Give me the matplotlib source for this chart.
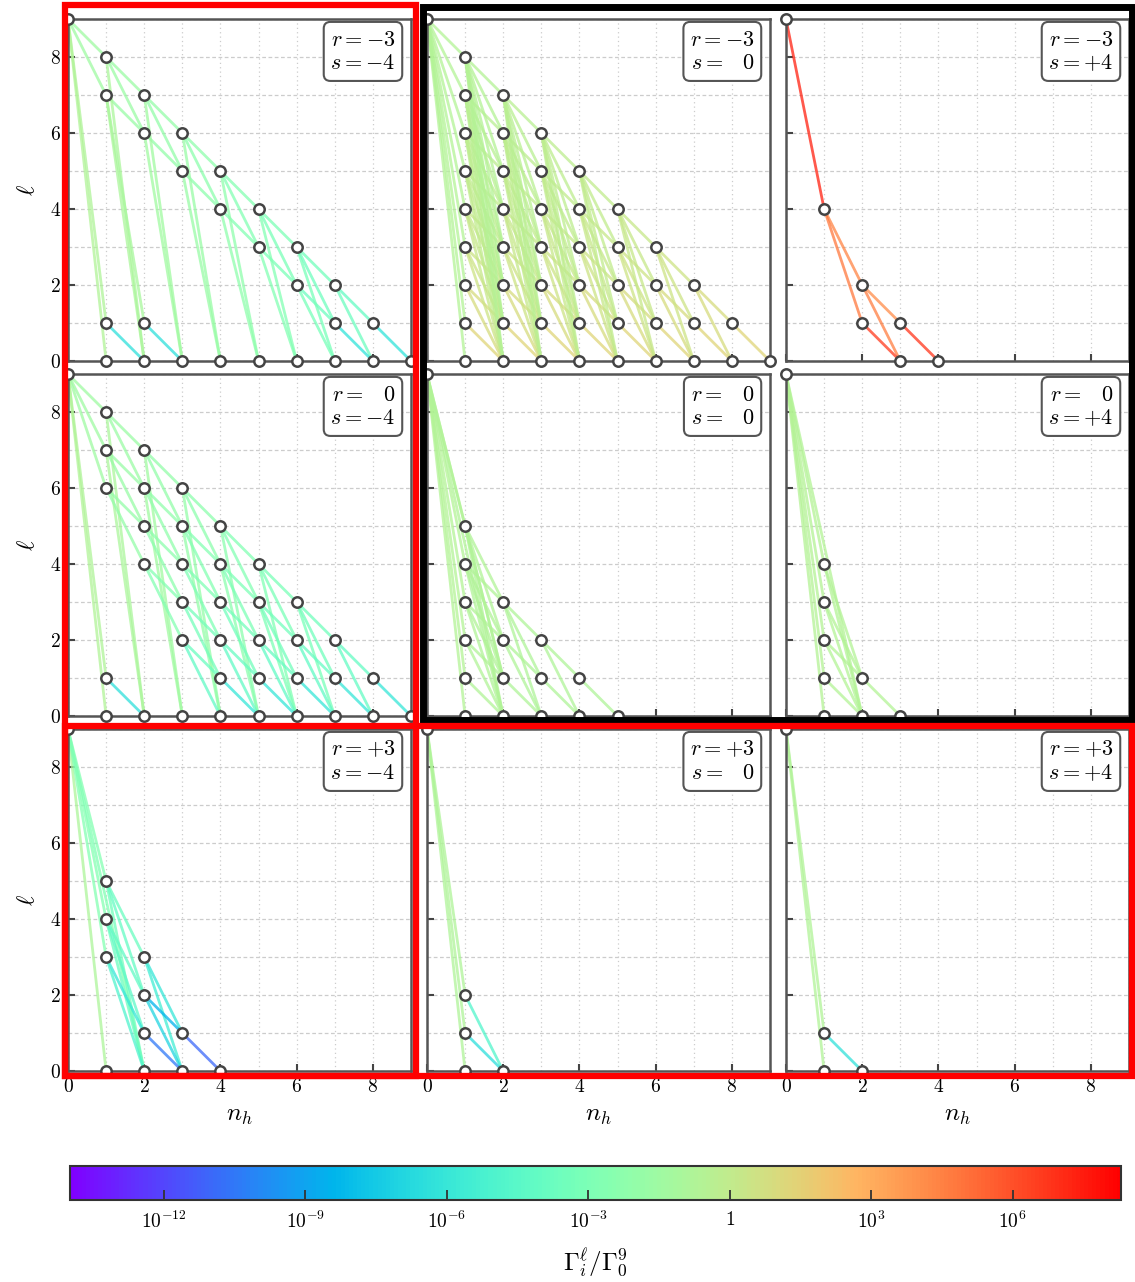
import numpy as np
import matplotlib
matplotlib.use("Agg")
import matplotlib.pyplot as plt
from matplotlib.collections import LineCollection
from matplotlib.colors import LogNorm
from matplotlib.patches import Rectangle
from matplotlib.ticker import MultipleLocator
import matplotlib.cm as cm

plt.rcParams['mathtext.fontset'] = 'cm'
plt.rcParams['font.family'] = 'serif'
plt.rcParams['font.serif'] = ['DejaVu Serif']

W, H = 1135, 1282

# panel parameters
r_values = [-3, 0, 3]   # rows
s_values = [-4, 0, 4]   # columns

# colour scale, log10 of Gamma_i^l / Gamma_0^9
cbar_log_min = -14.0
cbar_log_max = 8.3
cbar_ticks_log = [-12, -9, -6, -3, 0, 3, 6]
cbar_ticklabels = [r'$10^{-12}$', r'$10^{-9}$', r'$10^{-6}$', r'$10^{-3}$',
                   r'$1$', r'$10^{3}$', r'$10^{6}$']

# edges: (n_h, l, n_h', l', log10 ratio)
edges_rm3_sm4 = [
    (0, 9, 1, 8, -1.5), (0, 9, 1, 7, -1.5), (0, 9, 1, 1, -0.8), (0, 9, 1, 0, -0.7),
    (1, 8, 2, 7, -1.7), (1, 8, 2, 6, -1.7), (1, 7, 2, 6, -1.8), (1, 8, 2, 0, -1.0),
    (1, 7, 2, 1, -1.1), (1, 7, 2, 0, -1.0), (1, 1, 2, 0, -6.4),
    (2, 7, 3, 6, -1.9), (2, 7, 3, 5, -2.0), (2, 6, 3, 5, -2.0), (2, 7, 3, 0, -1.4),
    (2, 6, 3, 0, -1.4), (2, 1, 3, 0, -6.4),
    (3, 6, 4, 5, -2.2), (3, 6, 4, 4, -2.3), (3, 5, 4, 4, -2.3), (3, 6, 4, 0, -1.8),
    (3, 5, 4, 0, -1.8),
    (4, 5, 5, 4, -2.6), (4, 5, 5, 3, -2.7), (4, 4, 5, 3, -2.7), (4, 5, 5, 0, -2.2),
    (4, 4, 5, 0, -2.2),
    (5, 4, 6, 3, -3.0), (5, 4, 6, 2, -3.1), (5, 3, 6, 2, -3.1), (5, 4, 6, 0, -2.7),
    (5, 3, 6, 0, -2.7),
    (6, 3, 7, 2, -3.4), (6, 3, 7, 1, -3.6), (6, 2, 7, 1, -3.7), (6, 3, 7, 0, -3.2),
    (6, 2, 7, 0, -3.2),
    (7, 2, 8, 1, -4.0), (7, 2, 8, 0, -3.7), (7, 1, 8, 0, -6.2),
    (8, 1, 9, 0, -6.2),
]

# r=-3, s=0: levels present in each n_h column, every state decays to all lower l of the next column
levels_rm3_s0 = [[9], [0, 1, 2, 3, 4, 5, 6, 7, 8], [0, 1, 2, 3, 4, 5, 6, 7],
                 [0, 1, 2, 3, 4, 5, 6], [0, 1, 2, 3, 4, 5], [0, 1, 2, 3, 4],
                 [0, 1, 2, 3], [0, 1, 2], [0, 1], [0]]
# log10 ratio by the l of the source state
logG_rm3_s0_by_source = [0.0, 1.3, 0.9, 0.5, 0.2, 0.0, -0.2, -0.4, -0.5, -0.6]

edges_rm3_sp4 = [
    (0, 9, 1, 4, 7.3), (1, 4, 2, 2, 4.4), (1, 4, 2, 1, 4.8), (2, 2, 3, 1, 4.2),
    (2, 2, 3, 0, 4.6), (2, 1, 3, 0, 6.6), (3, 1, 4, 0, 6.8),
]

edges_r0_sm4 = [
    (0, 9, 1, 8, -1.5), (0, 9, 1, 7, -1.5), (0, 9, 1, 6, -1.5), (0, 9, 1, 1, -0.8),
    (0, 9, 1, 0, -0.7),
    (1, 8, 2, 7, -1.7), (1, 8, 2, 6, -1.7), (1, 8, 2, 0, -1.0),
    (1, 7, 2, 6, -1.8), (1, 7, 2, 5, -1.8), (1, 7, 2, 0, -1.0),
    (1, 6, 2, 5, -1.9), (1, 6, 2, 4, -1.9), (1, 1, 2, 0, -6.4),
    (2, 7, 3, 6, -2.0), (2, 7, 3, 5, -2.0), (2, 7, 3, 0, -1.4),
    (2, 6, 3, 5, -2.1), (2, 6, 3, 4, -2.1), (2, 6, 3, 0, -1.4),
    (2, 5, 3, 4, -2.3), (2, 5, 3, 3, -2.3),
    (2, 4, 3, 3, -2.6), (2, 4, 3, 2, -2.6),
    (3, 6, 4, 5, -2.3), (3, 6, 4, 4, -2.3), (3, 6, 4, 0, -1.9),
    (3, 5, 4, 4, -2.6), (3, 5, 4, 3, -2.6), (3, 5, 4, 0, -1.9),
    (3, 4, 4, 3, -2.9), (3, 4, 4, 2, -2.9),
    (3, 3, 4, 2, -3.3), (3, 3, 4, 1, -3.3),
    (3, 2, 4, 1, -3.8), (3, 2, 4, 0, -4.2),
    (4, 5, 5, 4, -2.7), (4, 5, 5, 3, -2.7), (4, 5, 5, 0, -2.4),
    (4, 4, 5, 3, -3.0), (4, 4, 5, 2, -3.0), (4, 4, 5, 0, -2.4),
    (4, 3, 5, 2, -3.4), (4, 3, 5, 1, -3.4),
    (4, 2, 5, 1, -3.9), (4, 2, 5, 0, -4.2), (4, 1, 5, 0, -6.0),
    (5, 4, 6, 3, -3.1), (5, 4, 6, 2, -3.1), (5, 4, 6, 0, -2.8),
    (5, 3, 6, 2, -3.4), (5, 3, 6, 1, -3.4), (5, 3, 6, 0, -3.0),
    (5, 2, 6, 1, -3.9), (5, 2, 6, 0, -4.2), (5, 1, 6, 0, -6.0),
    (6, 3, 7, 2, -3.5), (6, 3, 7, 1, -3.5), (6, 3, 7, 0, -3.2),
    (6, 2, 7, 1, -3.9), (6, 2, 7, 0, -4.2), (6, 1, 7, 0, -6.0),
    (7, 2, 8, 1, -4.0), (7, 2, 8, 0, -4.0), (7, 1, 8, 0, -6.0),
    (8, 1, 9, 0, -6.0),
]

edges_r0_s0 = [
    (0, 9, 1, 5, -0.6), (0, 9, 1, 4, -0.6), (0, 9, 1, 3, -0.6), (0, 9, 1, 2, -0.6),
    (0, 9, 1, 1, -0.6), (0, 9, 1, 0, -0.6), (0, 9, 2, 1, -0.7), (0, 9, 2, 0, -0.7),
    (1, 5, 2, 3, -0.7), (1, 5, 2, 2, -0.7), (1, 5, 2, 1, -0.7), (1, 5, 2, 0, -0.7),
    (1, 4, 2, 3, -0.7), (1, 4, 2, 2, -0.7), (1, 4, 2, 1, -0.7), (1, 4, 2, 0, -0.7),
    (1, 3, 2, 2, -0.7), (1, 3, 2, 1, -0.7), (1, 3, 2, 0, -0.7),
    (1, 2, 2, 1, -0.7), (1, 2, 2, 0, -0.7), (1, 1, 2, 0, -0.7),
    (2, 3, 3, 2, -0.8), (2, 3, 3, 1, -0.8), (2, 3, 3, 0, -0.8),
    (2, 2, 3, 1, -0.8), (2, 2, 3, 0, -0.8), (2, 1, 3, 0, -0.8),
    (3, 2, 4, 1, -0.8), (3, 2, 4, 0, -0.8), (3, 1, 4, 0, -0.8),
    (4, 1, 5, 0, -0.8),
]

edges_r0_sp4 = [
    (0, 9, 1, 4, -0.5), (0, 9, 1, 3, -0.5), (0, 9, 1, 2, -0.5), (0, 9, 1, 1, -0.5),
    (0, 9, 1, 0, -0.5), (0, 9, 2, 0, -0.6),
    (1, 4, 2, 1, -0.6), (1, 4, 2, 0, -0.6), (1, 3, 2, 1, -0.6), (1, 3, 2, 0, -0.6),
    (1, 2, 2, 1, -0.6), (1, 2, 2, 0, -0.6), (1, 1, 2, 0, -0.6),
    (2, 1, 3, 0, -0.6),
]

edges_rp3_sm4 = [
    (0, 9, 1, 0, -0.9), (0, 9, 1, 5, -2.6), (0, 9, 1, 4, -2.6), (0, 9, 1, 3, -2.6),
    (0, 9, 2, 0, -2.8),
    (1, 5, 2, 3, -3.8), (1, 5, 2, 2, -4.0), (1, 5, 2, 0, -3.5),
    (1, 4, 2, 2, -4.2), (1, 4, 2, 1, -4.4), (1, 4, 2, 0, -3.8),
    (1, 3, 2, 1, -6.0), (1, 3, 2, 0, -5.0),
    (2, 3, 3, 1, -6.0), (2, 3, 3, 0, -5.5),
    (2, 2, 3, 1, -8.5), (2, 2, 3, 0, -7.0),
    (2, 1, 3, 0, -10.5), (3, 1, 4, 0, -11.0),
]

edges_rp3_s0 = [
    (0, 9, 1, 2, -0.8), (0, 9, 1, 1, -0.8), (0, 9, 1, 0, -0.8),
    (1, 2, 2, 0, -4.8), (1, 1, 2, 0, -6.5),
]

edges_rp3_sp4 = [
    (0, 9, 1, 1, -0.7), (0, 9, 1, 0, -0.7), (1, 1, 2, 0, -6.3),
]

# build the dense r=-3, s=0 panel from its level table
edges_rm3_s0 = []
for n, levels in enumerate(levels_rm3_s0[:-1]):
    for l in levels:
        for l2 in levels_rm3_s0[n + 1]:
            if l2 < l:
                edges_rm3_s0.append((n, l, n + 1, l2, logG_rm3_s0_by_source[min(l, 9)]))

panel_edges = [[edges_rm3_sm4, edges_rm3_s0, edges_rm3_sp4],
               [edges_r0_sm4, edges_r0_s0, edges_r0_sp4],
               [edges_rp3_sm4, edges_rp3_s0, edges_rp3_sp4]]

# layout in pixels
col_left = [68, 427, 786]
row_top = [19, 374, 729]
ax_w, ax_h = 343, 342

fig = plt.figure(figsize=(W / 100, H / 100), dpi=100)
cmap = plt.get_cmap('rainbow')
norm = LogNorm(vmin=10 ** cbar_log_min, vmax=10 ** cbar_log_max)


def px_axes(left, top, width, height):
    return fig.add_axes([left / W, 1 - (top + height) / H, width / W, height / H])


def sign_str(v):
    if v == 0:
        return r'\ \ \,0'
    return ('+' if v > 0 else '-') + str(abs(v))


for i, r in enumerate(r_values):
    for j, s in enumerate(s_values):
        ax = px_axes(col_left[j], row_top[i], ax_w, ax_h)
        ax.set_xlim(0, 9)
        ax.set_ylim(0, 9)
        ax.set_xticks([0, 2, 4, 6, 8])
        ax.set_yticks([0, 2, 4, 6, 8])
        ax.xaxis.set_minor_locator(MultipleLocator(1))
        ax.yaxis.set_minor_locator(MultipleLocator(1))
        ax.tick_params(which='minor', length=0)
        ax.tick_params(which='major', direction='in', length=5, width=1.5, color='#444444',
                       labelsize=14, pad=5)
        ax.grid(True, which='both', axis='x', ls=(0, (1, 2.5)), color='#cccccc', lw=0.9)
        ax.grid(True, which='both', axis='y', ls=(0, (3, 2)), color='#cccccc', lw=0.9)
        ax.set_axisbelow(True)
        for sp in ax.spines.values():
            sp.set_color('#555555')
            sp.set_linewidth(1.8)

        if i == 2:
            ax.set_xticklabels([r'$0$', r'$2$', r'$4$', r'$6$', r'$8$'])
            ax.set_xlabel(r'$n_h$', fontsize=18, labelpad=6)
        else:
            ax.set_xticklabels([])
        if j == 0:
            ax.set_yticklabels([r'$0$', r'$2$', r'$4$', r'$6$', r'$8$'])
            ax.set_ylabel(r'$\ell$', fontsize=18, labelpad=8)
        else:
            ax.set_yticklabels([])

        edges = panel_edges[i][j]
        segs = [[(e[0], e[1]), (e[2], e[3])] for e in edges]
        cols = [cmap(norm(10 ** e[4])) for e in edges]
        lc = LineCollection(segs, colors=cols, linewidths=2.0, alpha=0.75, zorder=2)
        ax.add_collection(lc)

        nodes = sorted({(e[0], e[1]) for e in edges} | {(e[2], e[3]) for e in edges})
        ax.plot([p[0] for p in nodes], [p[1] for p in nodes], 'o', ls='none', ms=7.5,
                mfc='white', mec='#444444', mew=1.8, clip_on=False, zorder=4)

        label = r'$r=' + sign_str(r) + '$\n' + r'$s=' + sign_str(s) + '$'
        ax.text(0.955, 0.972, label, transform=ax.transAxes, ha='right', va='top',
                fontsize=16, linespacing=1.1, zorder=5,
                bbox=dict(boxstyle='round,pad=0.3', fc='white', ec='#555555', lw=1.5))

# colour bar
cax = px_axes(69.5, 1166, 1051.5, 34)
sm = cm.ScalarMappable(norm=norm, cmap=cmap)
cb = fig.colorbar(sm, cax=cax, orientation='horizontal')
cb.set_ticks([10.0 ** t for t in cbar_ticks_log])
cb.set_ticklabels(cbar_ticklabels)
cb.ax.minorticks_off()
cb.ax.tick_params(direction='in', length=7, width=1.3, color='#333333', labelsize=14, pad=8)
cb.outline.set_linewidth(1.5)
cb.outline.set_edgecolor('#333333')
cb.set_label(r'$\Gamma_i^\ell/\Gamma_0^9$', fontsize=18, labelpad=10)

# highlight frames drawn over the figure (pixel boxes: left, top, right, bottom)
frames = [((423, 7, 1132, 719.5), 'black', 5.0),
          ((65, 5, 416, 1076), 'red', 4.5),
          ((65, 726, 1132, 1076), 'red', 4.5)]
for (x0, y0, x1, y1), colr, lw in frames:
    fig.add_artist(Rectangle((x0 / W, 1 - y1 / H), (x1 - x0) / W, (y1 - y0) / H,
                             transform=fig.transFigure, fill=False, ec=colr, lw=lw,
                             zorder=10))

fig.savefig('out.png', dpi=100)
